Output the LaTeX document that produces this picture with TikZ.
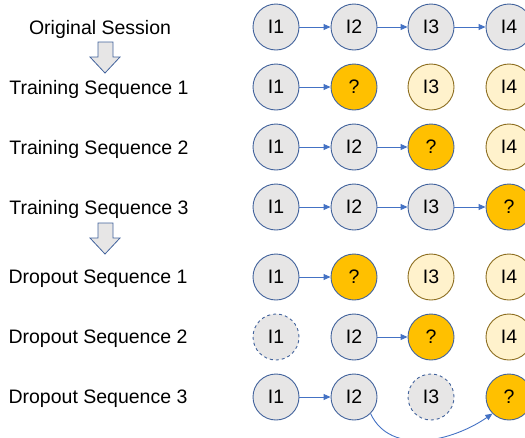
\documentclass[tikz,border=0pt]{standalone}
\usepackage{fontspec}
\setmainfont{Liberation Sans}
\usetikzlibrary{arrows.meta}
\definecolor{itemgray}{HTML}{E7E6E6}
\definecolor{itemblue}{HTML}{41629C}
\definecolor{linkblue}{HTML}{4472C4}
\definecolor{targetorange}{HTML}{FFC000}
\definecolor{futurefill}{HTML}{FFF2CC}
\definecolor{futureline}{HTML}{8C6D1F}
\begin{document}
\begin{tikzpicture}[x=1pt,y=-1pt,
    every node/.style={font=\fontsize{19.5}{23}\selectfont},
    item/.style={circle,draw=itemblue,fill=itemgray,line width=0.9pt,minimum size=46pt,inner sep=0pt},
    dropped/.style={item,dashed},
    target/.style={item,fill=targetorange},
    future/.style={item,draw=futureline,fill=futurefill},
    link/.style={draw=linkblue,line width=0.9pt,-{Triangle[length=7pt,width=6pt]}},
    blockarrow/.style={draw=itemblue,fill=itemgray,line width=0.8pt,line join=miter}]
      \useasboundingbox (0,0) rectangle (525,437);
      \clip (0,0) rectangle (525,437);
      % row labels
      \draw
        (100,29) node (l0){Original Session}
        (99,89) node (l1){Training Sequence 1}
        (99,149) node (l2){Training Sequence 2}
        (99,209) node (l3){Training Sequence 3}
        (98,279) node (l4){Dropout Sequence 1}
        (98,339) node (l5){Dropout Sequence 2}
        (98,399) node (l6){Dropout Sequence 3};
      % block arrows
      \draw[blockarrow] (98,42) -- (113,42) -- (113,57) -- (120,57) -- (105,73)
        -- (90,57) -- (98,57) -- cycle;
      \draw[blockarrow] (98,223) -- (113,223) -- (113,238) -- (120,238) -- (105,254)
        -- (90,238) -- (98,238) -- cycle;
      % original session
      \draw
        (276,27) node[item] (a1){I1}
        (354,27) node[item] (a2){I2}
        (431,27) node[item] (a3){I3}
        (509,27) node[item] (a4){I4};
      % training sequences
      \draw
        (276,87) node[item] (b1){I1}
        (354,87) node[target] (b2){?}
        (431,87) node[future] (b3){I3}
        (509,87) node[future] (b4){I4}
        (276,147) node[item] (c1){I1}
        (354,147) node[item] (c2){I2}
        (431,147) node[target] (c3){?}
        (509,147) node[future] (c4){I4}
        (276,207) node[item] (d1){I1}
        (354,207) node[item] (d2){I2}
        (431,207) node[item] (d3){I3}
        (509,207) node[target] (d4){?};
      % dropout sequences
      \draw
        (276,277) node[item] (e1){I1}
        (354,277) node[target] (e2){?}
        (431,277) node[future] (e3){I3}
        (509,277) node[future] (e4){I4}
        (276,337) node[dropped] (f1){I1}
        (354,337) node[item] (f2){I2}
        (431,337) node[target] (f3){?}
        (509,337) node[future] (f4){I4}
        (276,397) node[item] (g1){I1}
        (354,397) node[item] (g2){I2}
        (431,397) node[dropped] (g3){I3}
        (509,397) node[target] (g4){?};
      \begin{scope}[link]
        \draw (a1) to (a2);
        \draw (a2) to (a3);
        \draw (a3) to (a4);
        \draw (b1) to (b2);
        \draw (c1) to (c2);
        \draw (c2) to (c3);
        \draw (d1) to (d2);
        \draw (d2) to (d3);
        \draw (d3) to (d4);
        \draw (e1) to (e2);
        \draw (f2) to (f3);
        \draw (g1) to (g2);
        \draw (g2.-45) to[out=-65,in=-145] (g4.-135);
      \end{scope}
    \end{tikzpicture}
\end{document}
